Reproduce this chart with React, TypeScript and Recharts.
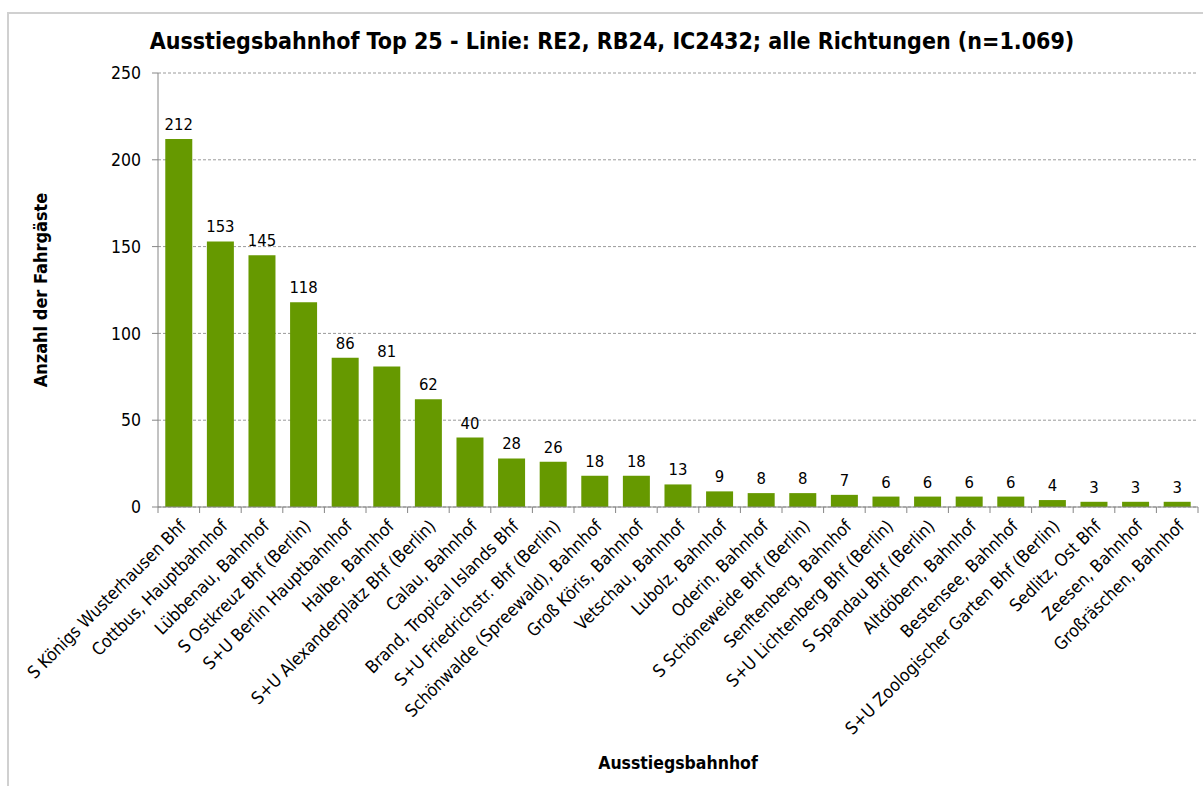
import { BarChart, Bar, XAxis, YAxis, CartesianGrid, LabelList, Label } from "recharts";

const stations = [
  "S Königs Wusterhausen Bhf",
  "Cottbus, Hauptbahnhof",
  "Lübbenau, Bahnhof",
  "S Ostkreuz Bhf (Berlin)",
  "S+U Berlin Hauptbahnhof",
  "Halbe, Bahnhof",
  "S+U Alexanderplatz Bhf (Berlin)",
  "Calau, Bahnhof",
  "Brand, Tropical Islands Bhf",
  "S+U Friedrichstr. Bhf (Berlin)",
  "Schönwalde (Spreewald), Bahnhof",
  "Groß Köris, Bahnhof",
  "Vetschau, Bahnhof",
  "Lubolz, Bahnhof",
  "Oderin, Bahnhof",
  "S Schöneweide Bhf (Berlin)",
  "Senftenberg, Bahnhof",
  "S+U Lichtenberg Bhf (Berlin)",
  "S Spandau Bhf (Berlin)",
  "Altdöbern, Bahnhof",
  "Bestensee, Bahnhof",
  "S+U Zoologischer Garten Bhf (Berlin)",
  "Sedlitz, Ost Bhf",
  "Zeesen, Bahnhof",
  "Großräschen, Bahnhof",
];

const passengers = [212, 153, 145, 118, 86, 81, 62, 40, 28, 26, 18, 18, 13, 9, 8, 8, 7, 6, 6, 6, 6, 4, 3, 3, 3];

const yTicks = [0, 50, 100, 150, 200, 250];

const data = stations.map((name, i) => ({ name, value: passengers[i] }));

const FONT = "'DejaVu Sans Condensed', 'DejaVu Sans', sans-serif";
const AXIS = "#868686";
const BAND = 1040 / stations.length;

function StationTick(props: any) {
  const { x, y, payload, index } = props;
  const left = x - BAND / 2;
  return (
    <g>
      <line x1={left} y1={y} x2={left} y2={y + 6} stroke={AXIS} />
      {index === stations.length - 1 && (
        <line x1={x + BAND / 2} y1={y} x2={x + BAND / 2} y2={y + 6} stroke={AXIS} />
      )}
      <g transform={`translate(${x + 4},${y + 16})`}>
        <text transform="rotate(-45)" textAnchor="end" fontSize={17.5} fill="#000" fontFamily={FONT} dy="0.35em">
          {payload.value}
        </text>
      </g>
    </g>
  );
}

export default function App() {
  return (
    <div style={{ position: "absolute", left: 0, top: 0, width: 1203, height: 786, overflow: "hidden", background: "#fff" }}>
      <div style={{ position: "absolute", left: 7, top: 12, width: 1250, height: 900, border: "2px solid #d0d0d0" }} />
      <div
        style={{
          position: "absolute",
          left: 0,
          top: 28,
          width: 1224,
          textAlign: "center",
          fontFamily: FONT,
          fontWeight: "bold",
          fontSize: 23,
          color: "#000",
        }}
      >
        Ausstiegsbahnhof Top 25 - Linie: RE2, RB24, IC2432; alle Richtungen (n=1.069)
      </div>
      <div style={{ position: "absolute", left: 0, top: 0 }}>
        <BarChart
          width={1203}
          height={786}
          data={data}
          margin={{ top: 73, right: 5, bottom: 10, left: 98 }}
          barCategoryGap="17.5%"
        >
          <CartesianGrid vertical={false} stroke="#9a9a9a" strokeDasharray="3 2" />
          <XAxis
            dataKey="name"
            interval={0}
            height={269}
            tickLine={false}
            tickSize={0}
            tickMargin={0}
            axisLine={{ stroke: AXIS }}
            tick={<StationTick />}
          >
            <Label
              value="Ausstiegsbahnhof"
              position="insideBottom"
              offset={7}
              style={{ fontFamily: FONT, fontWeight: "bold", fontSize: 17.5, fill: "#000" }}
            />
          </XAxis>
          <YAxis
            width={60}
            domain={[0, 250]}
            ticks={yTicks}
            tickSize={6}
            tickMargin={11}
            tickLine={{ stroke: AXIS }}
            axisLine={{ stroke: AXIS }}
            tick={{ fontSize: 17.5, fill: "#000", fontFamily: FONT }}
          >
            <Label
              content={({ viewBox }: any) => {
                const cx = viewBox.x - 58;
                const cy = viewBox.y + viewBox.height / 2;
                return (
                  <text
                    x={cx}
                    y={cy}
                    transform={`rotate(-90, ${cx}, ${cy})`}
                    textAnchor="middle"
                    dominantBaseline="central"
                    fontFamily={FONT}
                    fontWeight="bold"
                    fontSize={18}
                    fill="#000"
                  >
                    Anzahl der Fahrgäste
                  </text>
                );
              }}
            />
          </YAxis>
          <Bar dataKey="value" fill="#669900" isAnimationActive={false}>
            <LabelList dataKey="value" position="top" offset={9} fontSize={16.5} fill="#000" fontFamily={FONT} />
          </Bar>
        </BarChart>
      </div>
    </div>
  );
}
